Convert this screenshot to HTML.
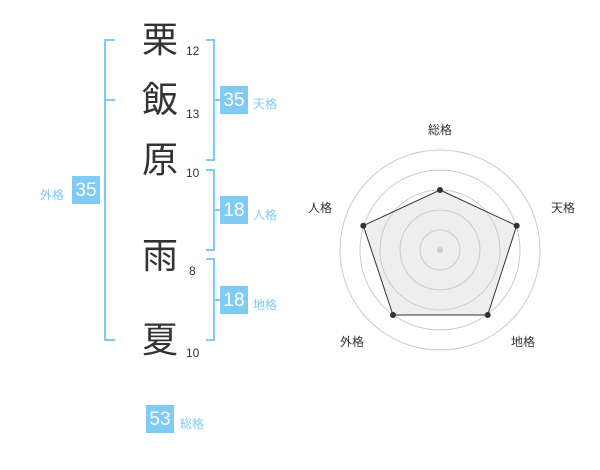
<!DOCTYPE html>
<html><head><meta charset="utf-8"><style>
body{margin:0;width:600px;height:470px;background:#fff;overflow:hidden;font-family:"Liberation Sans","Noto Sans CJK JP",sans-serif;}
.k{position:absolute;font-size:36px;color:#333;line-height:1;width:44px;text-align:center;left:138px}
.n{position:absolute;font-size:12px;color:#333;left:186px}
.b{position:absolute;background:#7fcbf5;color:#fff;font-size:19px;width:28px;height:28px;line-height:30px;text-align:center}
.l{position:absolute;color:#7fcbf5;font-size:12px}
</style></head><body>
<svg width="600" height="470" style="position:absolute;left:0;top:0">
<g stroke="#7fcbf5" stroke-width="2" fill="none">
<path d="M115 40H105V340H115M105 100H115"/>
<path d="M206 40H214V160H206M214 100H222"/>
<path d="M206 170H214V250H206M214 210H222"/>
<path d="M206 259H214V340H206M214 300H222"/>
</g>
<g fill="none" stroke="#ccc" stroke-width="1">
<circle cx="440" cy="250" r="20"/><circle cx="440" cy="250" r="40"/><circle cx="440" cy="250" r="60"/><circle cx="440" cy="250" r="80"/><circle cx="440" cy="250" r="100"/>
</g>
<polygon points="440,190 516.7,225.7 487.7,315 393,315 363.3,225.7" fill="rgba(200,200,200,0.3)" stroke="#333" stroke-width="1"/>
<g fill="#333"><circle cx="440" cy="190" r="3"/><circle cx="516.7" cy="225.7" r="3"/><circle cx="487.7" cy="315" r="3"/><circle cx="393" cy="315" r="3"/><circle cx="363.3" cy="225.7" r="3"/></g>
<circle cx="440" cy="250" r="3" fill="#ccc"/>
<g font-size="12" fill="#333" text-anchor="middle" font-family="Liberation Sans,Noto Sans CJK JP,sans-serif">
<text x="440" y="134">総格</text><text x="563" y="212">天格</text><text x="320" y="212">人格</text><text x="523" y="346">地格</text><text x="352" y="346">外格</text>
</g>
</svg>
<div class="k" style="top:22px">栗</div><div class="n" style="top:44px">12</div>
<div class="k" style="top:82px">飯</div><div class="n" style="top:107px">13</div>
<div class="k" style="top:142px">原</div><div class="n" style="top:166px">10</div>
<div class="k" style="top:238px">雨</div><div class="n" style="top:264px;left:189px">8</div>
<div class="k" style="top:322px">夏</div><div class="n" style="top:346px">10</div>
<div class="b" style="left:220px;top:86px">35</div><div class="l" style="left:253px;top:95px">天格</div>
<div class="b" style="left:220px;top:196px">18</div><div class="l" style="left:253px;top:206px">人格</div>
<div class="b" style="left:220px;top:286px">18</div><div class="l" style="left:253px;top:296px">地格</div>
<div class="b" style="left:72px;top:176px">35</div><div class="l" style="left:40px;top:186px">外格</div>
<div class="b" style="left:146px;top:405px">53</div><div class="l" style="left:180px;top:415px">総格</div>
</body></html>
